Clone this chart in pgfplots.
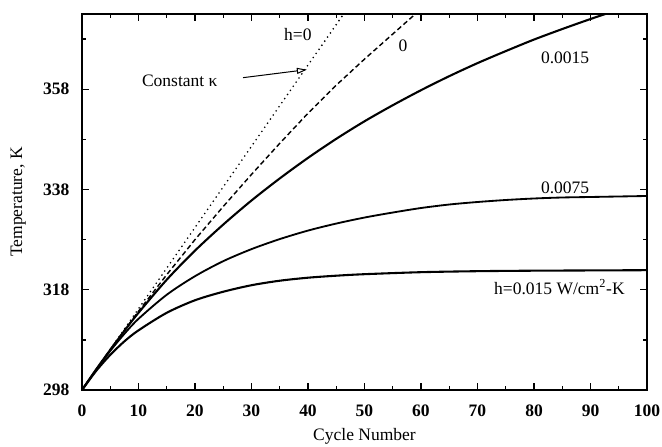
\documentclass[border=0pt]{standalone}
\usepackage{fontspec}
\setmainfont{Liberation Serif}
\usepackage{pgfplots}
\pgfplotsset{compat=1.18}
\usetikzlibrary{arrows.meta}

% Cycle-averaged temperature for several heat-transfer coefficients h
\pgfplotstableread{
x T
0 298
2.5 302.1
5 306.1
10 314.2
20 330.4
30 346.6
40 362.8
46.3 373
}\hzeroconst
\pgfplotstableread{
x T
0 298
2.5 302.1
5 306.1
7.5 309.9
10 313.7
15 321.0
20 328.0
25 334.6
30 341.0
35 347.2
40 353.2
45 358.8
50 364.0
55 369.0
59 373
}\hzero
\pgfplotstableread{
x T
0 298
2.5 302.1
5 306.0
7.5 309.8
10 313.4
15 320.0
20 325.8
25 331.0
30 335.8
35 340.2
40 344.3
45 348.1
50 351.6
55 354.8
60 357.8
65 360.6
70 363.2
75 365.6
80 367.9
85 370.0
90 372.0
95 373.9
100 375.7
}\hA
\pgfplotstableread{
x T
0 298
2.5 302.0
5 305.8
7.5 309.2
10 312.2
15 317.0
20 320.7
25 323.7
30 326.1
35 328.1
40 329.8
45 331.2
50 332.4
55 333.4
60 334.3
65 335.0
70 335.5
75 335.9
80 336.2
85 336.4
90 336.5
95 336.6
100 336.7
}\hB
\pgfplotstableread{
x T
0 298
2.5 301.8
5 305.0
7.5 307.7
10 309.9
15 313.4
20 315.9
25 317.6
30 318.9
35 319.8
40 320.4
45 320.8
50 321.1
60 321.5
70 321.7
80 321.8
90 321.85
100 321.9
}\hC

\begin{document}
\begin{tikzpicture}[font=\fontsize{10.5}{12}\selectfont]
\begin{axis}[
  scale only axis, width=339pt, height=225.6pt,
  xmin=0, xmax=100, ymin=298, ymax=373,
  xtick={0,10,...,100}, minor x tick num=1,
  ytick={298,318,338,358}, minor ytick={308,328,348,368},
  tick align=inside,
  major tick length=4pt, minor tick length=2.4pt,
  axis line style={line width=1.1pt},
  every tick/.style={line width=0.8pt, black},
  /pgf/number format/assume math mode=true,
  tick label style={font=\fontsize{10.5}{12}\selectfont\bfseries},
  xticklabel style={yshift=-5.5pt},
  yticklabel style={xshift=-4pt},
  xlabel={Cycle Number}, ylabel={Temperature, K},
  xlabel style={at={(axis description cs:0.5,-0.124)}, anchor=center},
  ylabel style={at={(axis description cs:-0.113,0.5)}, anchor=center},
  clip mode=individual,
]
\addplot[black, line width=1.1pt, line cap=round, dash pattern=on 0pt off 3pt] table {\hzeroconst};
\addplot[black, line width=0.85pt, dash pattern=on 3pt off 1.8pt] table {\hzero};
\addplot[black, line width=1.25pt, smooth] table {\hA};
\addplot[black, line width=1.1pt, smooth] table {\hB};
\addplot[black, line width=1.25pt, smooth] table {\hC};

\node at (axis cs:38.2,368.9) {h=0};
\node at (axis cs:56.8,366.7) {0};
\node at (axis cs:17.3,359.6) {Constant κ};
\draw[line width=0.6pt, -{Triangle[open,length=6pt,width=3.6pt]}]
  (axis cs:28.5,360.3) -- (axis cs:39.8,361.9);
\node at (axis cs:85.5,364.3) {0.0015};
\node at (axis cs:85.5,338.4) {0.0075};
\node at (axis cs:84.5,318.5) {h=0.015 W/cm\textsuperscript{2}-K};
\end{axis}
\pgfresetboundingbox
\path[use as bounding box] (current axis.south west) ++(-49.2pt,-34.2pt)
  rectangle ([xshift=9pt,yshift=8.4pt]current axis.north east);
\end{tikzpicture}
\end{document}
